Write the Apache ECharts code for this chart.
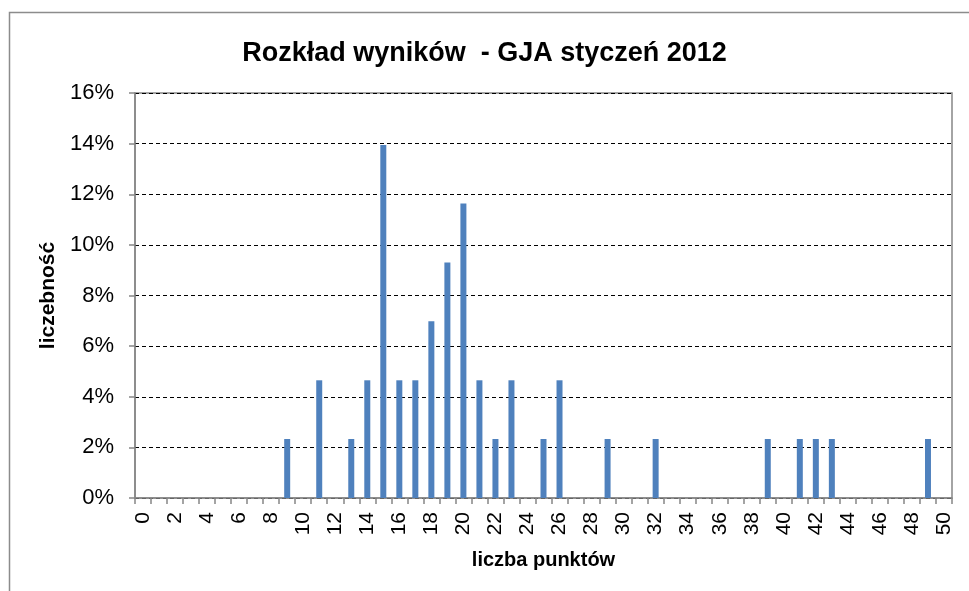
<!DOCTYPE html>
<html>
<head>
<meta charset="utf-8">
<script src="https://cdn.jsdelivr.net/npm/echarts@6/dist/echarts.min.js"></script>
<style>
  html, body { margin: 0; padding: 0; background: #fff; }
  #chart { width: 969px; height: 591px; }
</style>
</head>
<body>
<div id="chart"></div>
<script>
// liczba punktów 0..50
const categories = []
for (let i = 0; i <= 50; i++) categories.push(String(i))

// liczebność w %
const percentValues = [
  0, 0, 0, 0, 0, 0, 0, 0, 0, 2.33,        // 0-9
  0, 4.65, 0, 2.33, 4.65, 13.95, 4.65, 4.65, 6.98, 9.30, // 10-19
  11.63, 4.65, 2.33, 4.65, 0, 2.33, 4.65, 0, 0, 2.33,     // 20-29
  0, 0, 2.33, 0, 0, 0, 0, 0, 0, 2.33,     // 30-39
  0, 2.33, 2.33, 2.33, 0, 0, 0, 0, 0, 2.33, // 40-49
  0                                        // 50
]

const chart = echarts.init(document.getElementById('chart'))

const option = {
  animation: false,
  backgroundColor: '#fff',
  title: {
    text: 'Rozkład wyników  - GJA styczeń 2012',
    left: 'center',
    top: 35,
    textStyle: {
      fontFamily: 'Liberation Sans',
      fontWeight: 'bold',
      fontSize: 27,
      color: '#000'
    }
  },
  graphic: [{
    type: 'rect',
    shape: { x: 9.5, y: 12.5, width: 980, height: 600 },
    style: { fill: 'none', stroke: '#8c8c8c', lineWidth: 1.5 },
    silent: true
  }],
  grid: {
    left: 135,
    right: 17,
    top: 93,
    bottom: 93,
    show: true,
    borderColor: '#868686',
    borderWidth: 1.5,
    containLabel: false
  },
  xAxis: {
    type: 'category',
    data: categories,
    boundaryGap: true,
    name: 'liczba punktów',
    nameLocation: 'middle',
    nameGap: 52,
    nameTextStyle: {
      fontFamily: 'Liberation Sans',
      fontWeight: 'bold',
      fontSize: 20,
      color: '#000'
    },
    axisLine: { show: true, lineStyle: { color: '#868686', width: 1.5 } },
    axisTick: { show: true, interval: 0, length: 6, lineStyle: { color: '#868686', width: 1.5 } },
    axisLabel: {
      interval: 1,
      rotate: 90,
      margin: 14,
      fontFamily: 'Liberation Sans',
      fontSize: 21,
      color: '#000'
    },
    splitLine: { show: false }
  },
  yAxis: {
    type: 'value',
    min: 0,
    max: 16,
    interval: 2,
    name: 'liczebność',
    nameLocation: 'middle',
    nameGap: 73,
    nameTextStyle: {
      fontFamily: 'Liberation Sans',
      fontWeight: 'bold',
      fontSize: 21,
      color: '#000'
    },
    axisLine: { show: true, lineStyle: { color: '#868686', width: 1.5 } },
    axisTick: { show: true, length: 6, lineStyle: { color: '#868686', width: 1.5 } },
    axisLabel: {
      formatter: '{value}%',
      margin: 21,
      fontFamily: 'Liberation Sans',
      fontSize: 22,
      color: '#000'
    },
    splitLine: {
      show: true,
      lineStyle: { color: '#000', type: [4, 3], width: 1.2 }
    }
  },
  series: [{
    type: 'bar',
    data: percentValues,
    barWidth: 6,
    itemStyle: { color: '#4F81BD' }
  }]
}

chart.setOption(option)
</script>
</body>
</html>
